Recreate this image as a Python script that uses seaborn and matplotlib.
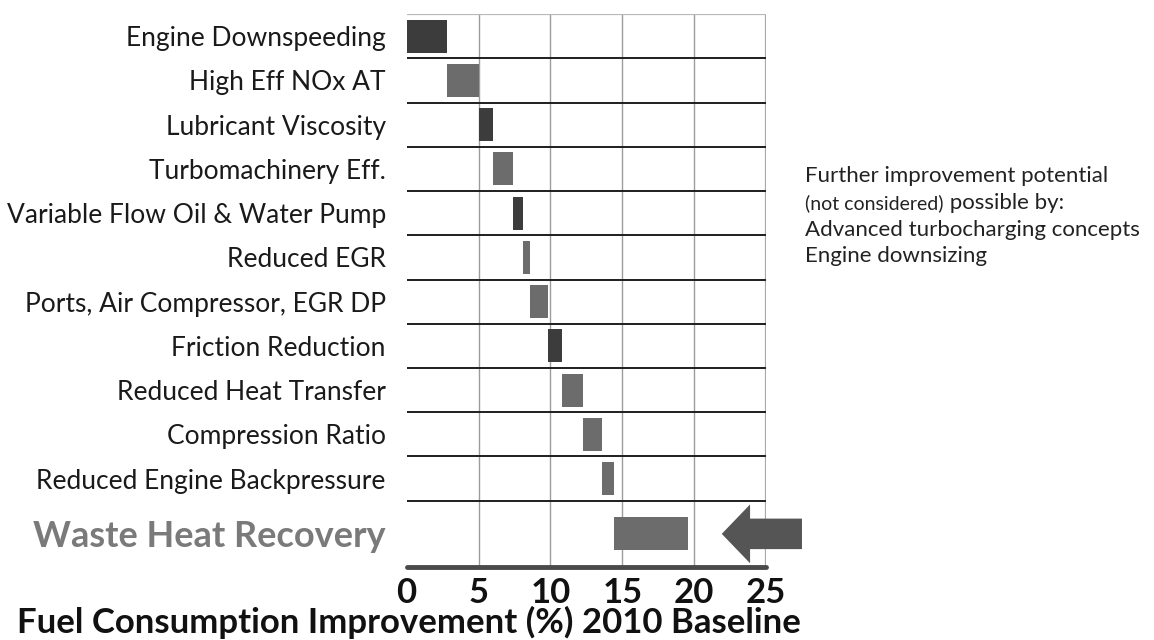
import numpy as np
import pandas as pd
import matplotlib
matplotlib.use("Agg")
import matplotlib.pyplot as plt
from matplotlib.patches import FancyArrow
import seaborn as sns

# Fuel consumption measures, listed top to bottom, with each step's gain (%)
measures = [
    "Engine Downspeeding",
    "High Eff NOx AT",
    "Lubricant Viscosity",
    "Turbomachinery Eff.",
    "Variable Flow Oil & Water Pump",
    "Reduced EGR",
    "Ports, Air Compressor, EGR DP",
    "Friction Reduction",
    "Reduced Heat Transfer",
    "Compression Ratio",
    "Reduced Engine Backpressure",
    "Waste Heat Recovery",
]
gain_pct = [2.8, 2.2, 1.0, 1.4, 0.7, 0.5, 1.2, 1.0, 1.5, 1.3, 0.8, 5.2]
x_ticks = [0, 5, 10, 15, 20, 25]
x_title = "Fuel Consumption Improvement (%) 2010 Baseline"
note_head = "Further improvement potential"
note_paren = "(not considered)"
note_tail = " possible by:"
note_items = ["Advanced turbocharging concepts", "Engine downsizing"]

# Styling
DARK = "#3c3c3c"
MID = "#6c6c6c"
dark_measures = {"Engine Downspeeding", "Lubricant Viscosity",
                 "Variable Flow Oil & Water Pump", "Friction Reduction"}

sns.set_style("white")
plt.rcParams["font.family"] = ["Lato", "DejaVu Sans"]

# Waterfall: each bar starts where the previous one ended
gain = np.asarray(gain_pct, dtype=float)
start = np.concatenate([[0.0], np.cumsum(gain)[:-1]])
row = np.arange(len(measures), dtype=float)
row[-1] += 0.25  # the highlighted last row is drawn taller

df = pd.DataFrame({"measure": measures, "gain": gain, "start": start, "row": row})

fig = plt.figure(figsize=(11.54, 6.40), dpi=100)
ax = fig.add_axes([0.3524, 0.114, 0.3114, 0.864])

sns.barplot(data=df, x="gain", y="row", orient="y", native_scale=True,
            width=0.75, color=MID, saturation=1, errorbar=None,
            left=df["start"].to_numpy(), linewidth=0, ax=ax, zorder=3)

for patch, m in zip(ax.patches, df["measure"]):
    patch.set_facecolor(DARK if m in dark_measures else MID)

ax.set_xlim(0, 25)
ax.set_ylim(12.0, -0.5)

# grid: light verticals, dark row separators
for xv in x_ticks[1:-1]:
    ax.axvline(xv, color="#9c9c9c", lw=1.0, zorder=1)
ax.axvline(x_ticks[-1], color="#a8a8a8", lw=1.6, zorder=1)
ax.axhline(-0.5, color="#b8b8b8", lw=1.6, zorder=2)
for b in np.arange(0.5, 11.0, 1.0):
    ax.axhline(b, color="#1e1e1e", lw=1.4, zorder=2)
ax.axhline(12.0, color="#4a4a4a", lw=3.5, zorder=2, clip_on=False)

for s in ax.spines.values():
    s.set_visible(False)

ax.set_xticks(x_ticks)
ax.set_xticklabels([str(t) for t in x_ticks], fontsize=25, fontweight="bold", color="#111111")
ax.set_yticks(row)
ax.set_yticklabels(measures, fontsize=19, color="#1a1a1a")
ax.tick_params(axis="y", length=0, pad=15)
ax.tick_params(axis="x", length=0, pad=7)
ax.set_xlabel("")
ax.set_ylabel("")

last = ax.get_yticklabels()[-1]
last.set_fontsize(26)
last.set_fontweight("bold")
last.set_color("#7a7a7a")

# arrow pointing at the waste heat recovery bar
ax.add_patch(FancyArrow(27.5, row[-1], -5.58, 0, width=0.69, head_width=1.33,
                        head_length=1.97, length_includes_head=True,
                        color="#555555", lw=0, clip_on=False, zorder=4))

fig.text(0.354, 1 - 633 / 640, x_title, ha="center", va="baseline",
         fontsize=25, fontweight="bold", color="#111111")

# side note
nx = 805 / 1154
fig.text(nx, 1 - 182 / 640, note_head, fontsize=16, color="#222222", va="baseline")
t_par = fig.text(nx, 1 - 209 / 640, note_paren, fontsize=14, color="#222222", va="baseline")
fig.canvas.draw()
bb = t_par.get_window_extent(fig.canvas.get_renderer())
fig.text(bb.x1 / fig.bbox.width, 1 - 209 / 640, note_tail, fontsize=16,
         color="#222222", va="baseline")
for i, item in enumerate(note_items):
    fig.text(nx, 1 - (236 + 26 * i) / 640, item, fontsize=16, color="#222222", va="baseline")

fig.savefig("out.png", dpi=100, facecolor="white")
